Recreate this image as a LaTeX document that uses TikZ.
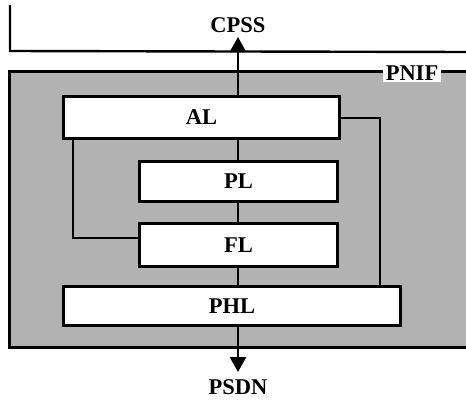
\documentclass[tikz,border=0pt]{standalone}
\usepackage{fontspec}
\setmainfont{Liberation Serif}
\usetikzlibrary{arrows.meta}
\begin{document}
\begin{tikzpicture}[x=1pt,y=-1pt,
  layer/.style={draw=black,line width=2.8pt,fill=white,inner sep=0pt,anchor=north west},
  conn/.style={line width=2.6pt},
  arr/.style={line width=2.6pt,-{Triangle[length=15pt,width=16pt]}},
  lbl/.style={font=\fontsize{22.5}{25}\selectfont\bfseries,inner sep=0pt}]
\useasboundingbox (0,0) rectangle (466,400);
% top system line
\coordinate (tl) at (10,5);
\coordinate (tc) at (10,51);
\coordinate (tr) at (470,52);
\draw[line width=2.4pt] (tl) -- (tc) -- (tr);
% PNIF enclosure
\begin{scope}
\clip (0,0) rectangle (466,400);
\node[draw=black,line width=3.2pt,fill=black!30,minimum width=470pt,minimum height=276pt,anchor=north west,inner sep=0pt] (pnif) at (8,70) {};
\end{scope}
\node[lbl,fill=white,font=\fontsize{22.5}{25}\selectfont\bfseries,inner xsep=3pt,inner ysep=2pt] (pniflbl) at (412,73) {PNIF};
% layers
\node[layer,minimum width=276pt,minimum height=42pt] (al) at (62,95) {};
\node[lbl] at (al.center) {AL};
\node[layer,minimum width=198pt,minimum height=40pt] (pl) at (138,160) {};
\node[lbl] at (pl.center) {PL};
\node[layer,minimum width=198pt,minimum height=43pt] (fl) at (138,222) {};
\node[lbl] at (fl.center) {FL};
\node[layer,minimum width=337pt,minimum height=39pt] (phl) at (62,285) {};
\node[lbl] at (phl.center) {PHL};
% vertical chain
\draw[conn] (al.south -| 238,0) -- (pl.north -| 238,0);
\draw[conn] (pl.south -| 238,0) -- (fl.north -| 238,0);
\draw[conn] (fl.south -| 238,0) -- (phl.north -| 238,0);
% loops
\draw[conn] (al.south -| 73,0) |- (fl.west |- 0,238);
\draw[conn] (al.east |- 0,118) -| (phl.north -| 380,0);
% external arrows
\coordinate (cpsstip) at (238,37);
\coordinate (psdntip) at (238,372);
\node[lbl] (cpss) at (238,25) {CPSS};
\node[lbl] (psdn) at (238,387) {PSDN};
\draw[arr] (al.north -| 238,0) -- (cpsstip);
\draw[arr] (phl.south -| 238,0) -- (psdntip);
\end{tikzpicture}
\end{document}
